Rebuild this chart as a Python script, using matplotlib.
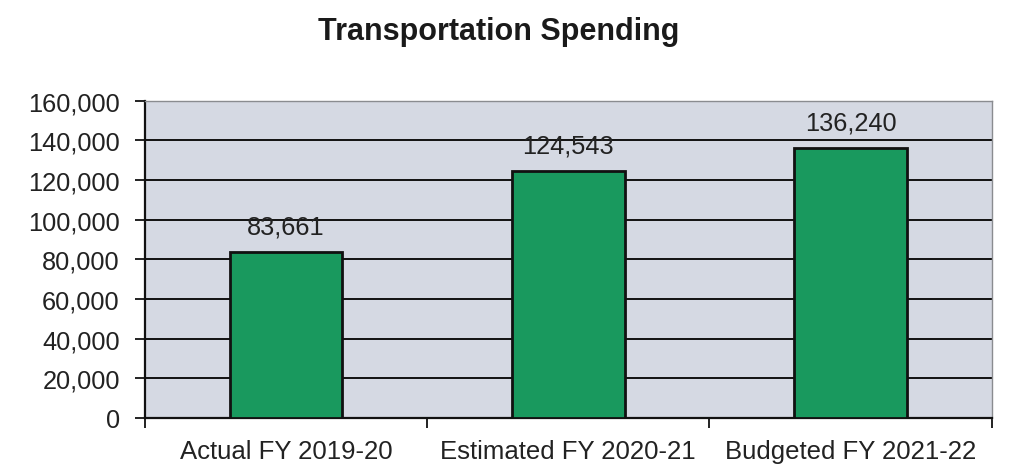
import matplotlib
matplotlib.use("Agg")
import matplotlib.pyplot as plt
from matplotlib.ticker import FuncFormatter, MultipleLocator

categories = ["Actual FY 2019-20", "Estimated FY 2020-21", "Budgeted FY 2021-22"]
values = [83661, 124543, 136240]
title = "Transportation Spending"

plt.rcParams["font.family"] = ["Liberation Sans", "DejaVu Sans"]

fig = plt.figure(figsize=(10.13, 4.77), dpi=100)
ax = fig.add_axes([0.143, 0.1216, 0.836, 0.665])
ax.set_facecolor("#D5D9E3")

x = list(range(len(categories)))
ax.set_axisbelow(True)
ax.yaxis.grid(True, color="#111111", linewidth=1.4)
bars = ax.bar(x, values, width=0.40, color="#19995E", edgecolor="#111111", linewidth=2.0, zorder=3)

for xi, v in zip(x, values):
    ax.annotate(f"{v:,}", (xi, v), xytext=(0, 18.5), textcoords="offset points",
                ha="center", va="center", fontsize=18.3, color="#222222")

ax.set_xlim(-0.5, len(categories) - 0.5)
ax.set_ylim(0, 160000)
ax.yaxis.set_major_locator(MultipleLocator(20000))
ax.yaxis.set_major_formatter(FuncFormatter(lambda v, p: f"{int(v):,}"))
ax.set_xticks(x)
ax.set_xticklabels(categories)
ax.set_xticks([i - 0.5 for i in range(len(categories) + 1)], minor=True)
ax.tick_params(axis="x", which="major", length=0, pad=15, labelsize=18.5, labelcolor="#222222")
ax.tick_params(axis="x", which="minor", length=7, width=1.3, direction="out", color="#111111")
ax.tick_params(axis="y", length=7, width=1.3, direction="out", pad=11, labelsize=18.3,
               labelcolor="#222222", color="#111111")

for side in ("left", "bottom"):
    ax.spines[side].set_color("#111111")
    ax.spines[side].set_linewidth(1.6)
for side in ("top", "right"):
    ax.spines[side].set_color("#8A8C90")
    ax.spines[side].set_linewidth(1.0)

fig.text(0.492, 0.932, title, ha="center", va="center", fontsize=22, fontweight="bold", color="#1A1A1A")

fig.savefig("out.png", dpi=100, facecolor="white")
